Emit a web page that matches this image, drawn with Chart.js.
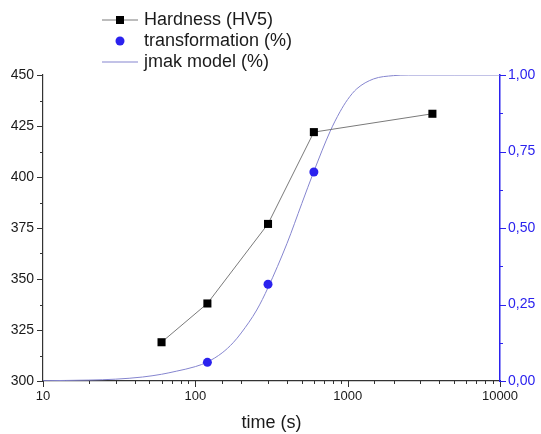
<!DOCTYPE html>
<html lang="en">
<head>
<meta charset="UTF-8">
<title>Hardness / transformation</title>
<script src="https://cdn.jsdelivr.net/npm/chart.js@4/dist/chart.umd.min.js"></script>
<style>
  html, body { margin: 0; padding: 0; background: #fff; }
  #wrap { width: 541px; height: 434px; }
</style>
</head>
<body>
<div id="wrap"><canvas id="myChart" width="541" height="434"></canvas></div>
<script>
// measured points
const hardnessTime = [60, 120, 300, 600, 3600];
const hardnessHV = [319, 338, 377, 422, 431];

const transfTime = [120, 300, 600];
const transfFrac = [0.061, 0.316, 0.683];

// jmak curve
const jmakTime = [10, 20, 30, 45, 60, 75, 100, 120, 150, 177, 200, 253, 300, 400, 500, 600, 766, 891, 1000, 1148, 1476, 2000, 2500, 5000, 10000];
const jmakFrac = [0.001, 0.003, 0.006, 0.013, 0.022, 0.032, 0.047, 0.062, 0.092, 0.125, 0.157, 0.232, 0.305, 0.45, 0.58, 0.685, 0.815, 0.88, 0.92, 0.955, 0.987, 0.998, 1.0, 1.0, 1.0];

const legendItems = ['Hardness (HV5)', 'transformation (%)', 'jmak model (%)'];

const FONT = "'Liberation Sans', Arial, Helvetica, sans-serif";
const BLUE = '#2b22ee';
const AXIS = '#333333';
const NOCOL = 'rgba(0,0,0,0)';

function toXY(xs, ys) {
    return xs.map((x, i) => ({x: x, y: ys[i]}));
}

// legend drawn in the top left corner like the original
const legendPlugin = {
    id: 'cornerLegend',
    afterDraw(chart) {
        const ctx = chart.ctx;
        const x0 = 102, x1 = 138, tx = 144;
        const rows = [20, 41, 62];
        ctx.save();
        ctx.font = '18px ' + FONT;
        ctx.textBaseline = 'middle';
        ctx.fillStyle = '#1a1a1a';
        legendItems.forEach((t, i) => ctx.fillText(t, tx, rows[i]));

        ctx.lineWidth = 1;
        ctx.strokeStyle = '#7a7a7a';
        ctx.beginPath(); ctx.moveTo(x0, rows[0]); ctx.lineTo(x1, rows[0]); ctx.stroke();
        ctx.fillStyle = '#000';
        ctx.fillRect(116, rows[0] - 4, 8, 8);

        ctx.fillStyle = BLUE;
        ctx.beginPath(); ctx.arc(120, rows[1], 4.5, 0, Math.PI * 2); ctx.fill();

        ctx.strokeStyle = '#8585cf';
        ctx.beginPath(); ctx.moveTo(x0, rows[2]); ctx.lineTo(x1, rows[2]); ctx.stroke();
        ctx.restore();
    }
};

// major / minor tick marks (chart.js draws them all the same length)
const tickPlugin = {
    id: 'tickMarks',
    afterDraw(chart) {
        const ctx = chart.ctx;
        const isMajor = {
            x: v => { const l = Math.log10(v); return Math.abs(l - Math.round(l)) < 1e-9; },
            y: v => v % 25 === 0,
            y1: v => Math.abs(v * 4 - Math.round(v * 4)) < 1e-9
        };
        ctx.save();
        ctx.lineWidth = 1;
        ['x', 'y', 'y1'].forEach(id => {
            const s = chart.scales[id];
            ctx.strokeStyle = id === 'y1' ? BLUE : AXIS;
            s.ticks.forEach(t => {
                const len = isMajor[id](t.value) ? 6 : 3;
                const p = Math.round(s.getPixelForValue(t.value)) + 0.5;
                ctx.beginPath();
                if (id === 'x') {
                    ctx.moveTo(p, s.top); ctx.lineTo(p, s.top + len);
                } else if (id === 'y') {
                    ctx.moveTo(s.right - len, p); ctx.lineTo(s.right, p);
                } else {
                    ctx.moveTo(s.left, p); ctx.lineTo(s.left + len, p);
                }
                ctx.stroke();
            });
        });
        ctx.restore();
    }
};

const ctx = document.getElementById('myChart').getContext('2d');
const myChart = new Chart(ctx, {
    type: 'line',
    data: {
        datasets: [
            {
                label: legendItems[0],
                data: toXY(hardnessTime, hardnessHV),
                yAxisID: 'y',
                borderColor: '#7a7a7a',
                borderWidth: 1,
                pointStyle: 'rect',
                pointRadius: 5.7,
                pointBackgroundColor: '#000',
                pointBorderWidth: 0,
                order: 1
            },
            {
                label: legendItems[1],
                data: toXY(transfTime, transfFrac),
                yAxisID: 'y1',
                showLine: false,
                pointRadius: 4.5,
                pointBackgroundColor: BLUE,
                pointBorderWidth: 0,
                order: 0
            },
            {
                label: legendItems[2],
                data: toXY(jmakTime, jmakFrac),
                yAxisID: 'y1',
                borderColor: '#8585cf',
                borderWidth: 1,
                pointRadius: 0,
                cubicInterpolationMode: 'monotone',
                order: 2
            }
        ]
    },
    options: {
        responsive: false,
        animation: false,
        layout: { padding: { top: 75, left: 0, right: 0, bottom: 0 } },
        plugins: { legend: { display: false }, tooltip: { enabled: false } },
        scales: {
            x: {
                type: 'logarithmic',
                min: 10,
                max: 10000,
                afterFit: s => { s.height = 53; },
                border: { color: AXIS, width: 1.2 },
                grid: { drawOnChartArea: false, drawTicks: true, tickLength: 5, color: NOCOL },
                ticks: {
                    autoSkip: false,
                    maxRotation: 0,
                    padding: 3,
                    color: '#1a1a1a',
                    font: { family: FONT, size: 13 },
                    callback: v => {
                        const l = Math.log10(v);
                        return Math.abs(l - Math.round(l)) < 1e-9 ? String(v) : '';
                    }
                },
                title: {
                    display: true,
                    text: 'time (s)',
                    color: '#1a1a1a',
                    font: { family: FONT, size: 18 },
                    padding: { top: 0, bottom: 0 }
                }
            },
            y: {
                position: 'left',
                min: 300,
                max: 450,
                afterFit: s => { s.width = 43; },
                border: { color: AXIS, width: 1.2 },
                grid: { drawOnChartArea: false, drawTicks: true, tickLength: 6, color: NOCOL },
                ticks: {
                    stepSize: 12.5,
                    autoSkip: false,
                    padding: 3,
                    color: '#1a1a1a',
                    font: { family: FONT, size: 14 },
                    callback: v => (v % 25 === 0 ? String(v) : '')
                }
            },
            y1: {
                position: 'right',
                min: 0,
                max: 1,
                afterFit: s => { s.width = 41; },
                border: { color: BLUE, width: 1.5 },
                grid: { drawOnChartArea: false, drawTicks: true, tickLength: 5, color: NOCOL },
                ticks: {
                    stepSize: 0.125,
                    autoSkip: false,
                    padding: 3,
                    color: BLUE,
                    font: { family: FONT, size: 14 },
                    callback: v => (Math.abs(v * 4 - Math.round(v * 4)) < 1e-9 ? v.toFixed(2).replace('.', ',') : '')
                }
            }
        }
    },
    plugins: [tickPlugin, legendPlugin]
});
</script>
</body>
</html>
